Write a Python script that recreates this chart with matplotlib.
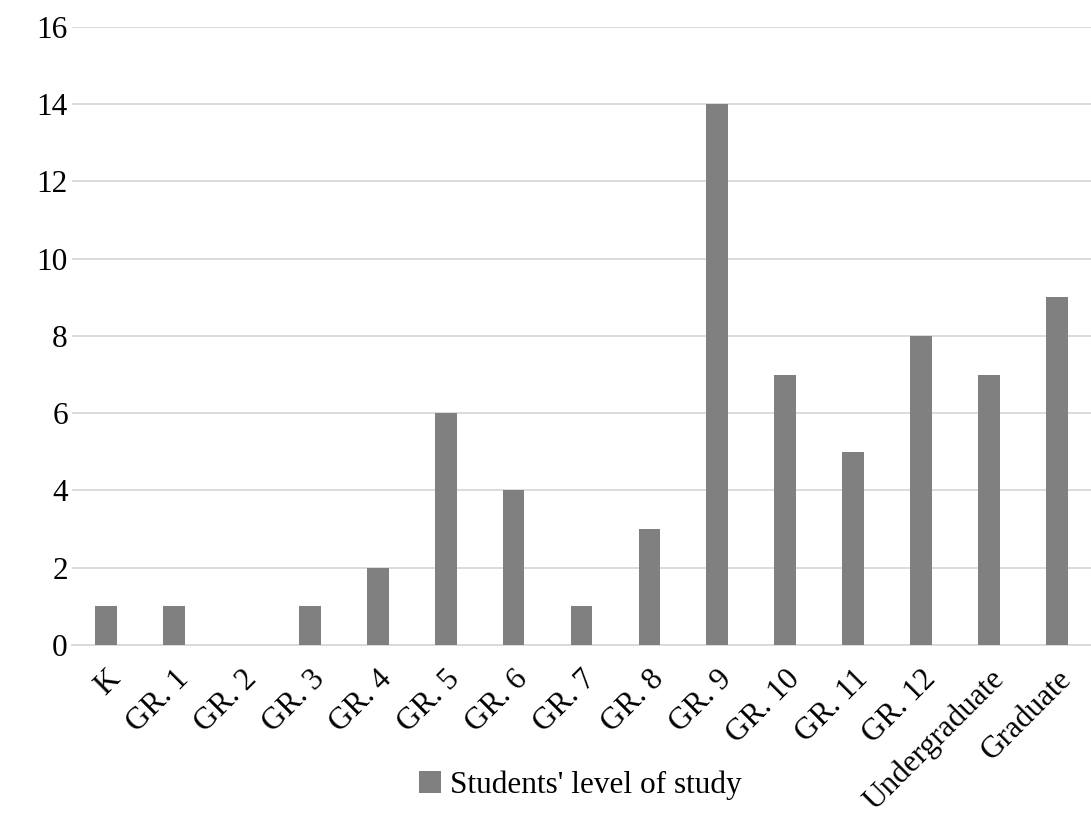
import matplotlib.pyplot as plt
import numpy as np

plt.rcParams['font.family'] = ['Liberation Serif', 'DejaVu Serif']

niveaux = ["K", "GR. 1", "GR. 2", "GR. 3", "GR. 4", "GR. 5", "GR. 6", "GR. 7",
           "GR. 8", "GR. 9", "GR. 10", "GR. 11", "GR. 12", "Undergraduate", "Graduate"]
nb_eleves = [1, 1, 0, 1, 2, 6, 4, 1, 3, 14, 7, 5, 8, 7, 9]

fig = plt.figure(figsize=(10.91, 8.15), dpi=100)
ax = fig.add_axes([0.066, 0.2086, 0.934, 0.7584])

x = np.arange(len(niveaux))
ax.bar(x, nb_eleves, width=0.32, color='#808080', label="Students' level of study", zorder=3)

ax.set_xlim(-0.5, len(niveaux) - 0.5)
ax.set_ylim(0, 16)
ax.set_yticks(np.arange(0, 17, 2))
ax.yaxis.grid(True, color='#d9d9d9', linewidth=1.3, zorder=0)
for s in ['top', 'right', 'left']:
    ax.spines[s].set_visible(False)
ax.spines['bottom'].set_color('#d9d9d9')
ax.spines['bottom'].set_linewidth(1.3)
ax.tick_params(axis='both', length=0, labelsize=22.5)
ax.tick_params(axis='y', pad=3)
ax.set_xticks(x)
ax.set_xticklabels(niveaux, rotation=45, ha='right', va='top', rotation_mode='anchor')
ax.tick_params(axis='x', pad=14)

fig.legend(loc='center', bbox_to_anchor=(0.532, 0.037), frameon=False, fontsize=22.5,
           handlelength=0.7, handleheight=0.7, handletextpad=0.3)

fig.savefig('out.png')
